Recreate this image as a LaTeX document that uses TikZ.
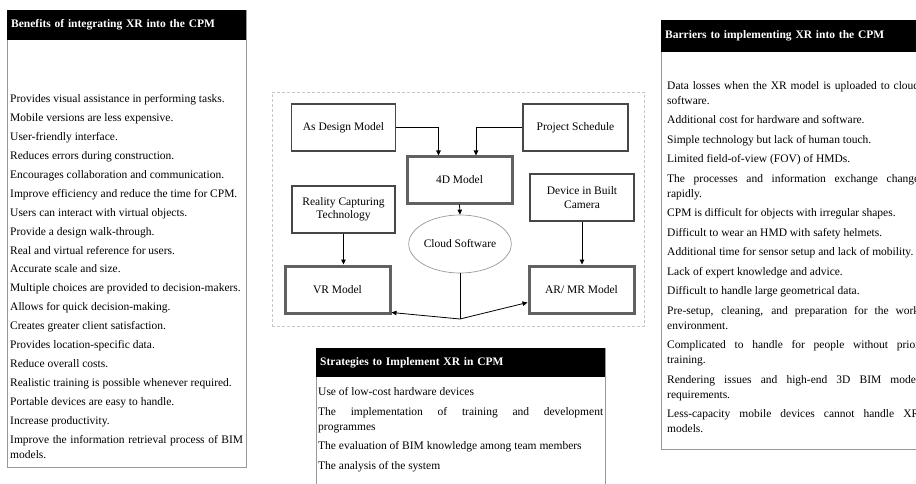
\documentclass[tikz,border=0pt]{standalone}
\usepackage{fontspec}
\setmainfont{Liberation Serif}
\usetikzlibrary{arrows.meta,shapes.geometric}
\newcommand{\listsetup}[1]{\setlength{\parskip}{#1}\hyphenpenalty=10000 \exhyphenpenalty=10000 \tolerance=9999 }
\tikzset{
 panel/.style={draw=black!40, line width=0.9pt, fill=white, anchor=north west, inner sep=0pt},
 hdr/.style={fill=black, text=white, anchor=north west, inner xsep=4pt, inner ysep=0pt, align=left, font=\fontsize{11.5}{14}\selectfont\bfseries},
 listtxt/.style={anchor=base west, inner sep=0pt, align=justify, font=\fontsize{11.5}{15}\selectfont},
 thinbox/.style={draw=black!72, line width=1.2pt, minimum width=104pt, minimum height=47pt, align=center, font=\fontsize{11.5}{13.5}\selectfont, inner sep=1pt},
 thickbox/.style={thinbox, draw=black!62, line width=3pt},
 cloudshape/.style={ellipse, draw=black!40, line width=0.7pt, minimum width=94pt, minimum height=58pt, inner sep=0pt, font=\fontsize{11.5}{13.5}\selectfont},
 arr/.style={line width=0.8pt, draw=black, -{Triangle[length=5pt,width=4.5pt]}},
 plain/.style={line width=0.8pt, draw=black},
 dashframe/.style={draw=black!22, line width=0.8pt, dash pattern=on 3pt off 2pt},
}
\begin{document}
\begin{tikzpicture}[x=1pt,y=-1pt]
\useasboundingbox (0,0) rectangle (916,484);
\fill[white] (0,0) rectangle (916,484);
\clip (0,0) rectangle (916,484);

% ---------- left panel ----------
\node[panel, minimum width=239pt, minimum height=457pt] (benpanel) at (7,10) {};
\node[hdr, text width=231pt, minimum height=30pt] (benhead) at (7,10) {Benefits of integrating XR into the CPM};
\node[listtxt, text width=233pt] (benlist) at (10,102.5) {\listsetup{3.94pt}%
Provides visual assistance in performing tasks.\par
Mobile versions are less expensive.\par
User-friendly interface.\par
Reduces errors during construction.\par
Encourages collaboration and communication.\par
Improve efficiency and reduce the time for CPM.\par
Users can interact with virtual objects.\par
Provide a design walk-through.\par
Real and virtual reference for users.\par
Accurate scale and size.\par
Multiple choices are provided to decision-makers.\par
Allows for quick decision-making.\par
Creates greater client satisfaction.\par
Provides location-specific data.\par
Reduce overall costs.\par
Realistic training is possible whenever required.\par
Portable devices are easy to handle.\par
Increase productivity.\par
Improve the information retrieval process of BIM\linebreak models.};

% ---------- right panel ----------
\node[panel, minimum width=280pt, minimum height=429pt] (barpanel) at (661,20) {};
\node[hdr, text width=272pt, minimum height=32pt] (barhead) at (661,20) {Barriers to implementing XR into the CPM};
\node[listtxt, text width=252pt] (barlist) at (667,89.5) {\listsetup{4.46pt}%
Data losses when the XR model is uploaded to cloud\linebreak software.\par
Additional cost for hardware and software.\par
Simple technology but lack of human touch.\par
Limited field-of-view (FOV) of HMDs.\par
The processes and information exchange change\linebreak rapidly.\par
CPM is difficult for objects with irregular shapes.\par
Difficult to wear an HMD with safety helmets.\par
Additional time for sensor setup and lack of mobility.\par
Lack of expert knowledge and advice.\par
Difficult to handle large geometrical data.\par
Pre-setup, cleaning, and preparation for the work\linebreak environment.\par
Complicated to handle for people without prior\linebreak training.\par
Rendering issues and high-end 3D BIM model\linebreak requirements.\par
Less-capacity mobile devices cannot handle XR\linebreak models.};

% ---------- strategies panel ----------
\node[panel, minimum width=289pt, minimum height=150pt] (strpanel) at (316,348) {};
\node[hdr, text width=281pt, minimum height=29pt] (strhead) at (316,348) {Strategies to Implement XR in CPM};
\node[listtxt, text width=285pt] (strlist) at (318,395.5) {\listsetup{4.67pt}%
Use of low-cost hardware devices\par
The implementation of training and development\linebreak programmes\par
The evaluation of BIM knowledge among team members\par
The analysis of the system};

% ---------- central diagram ----------
\node[dashframe, minimum width=372pt, minimum height=234pt, anchor=north west, inner sep=0pt] (frame) at (272,92) {};

\node[thinbox] (asdesign) at (343.5,127.5) {As Design Model};
\node[thinbox, minimum width=105pt] (projsched) at (575.5,127.5) {Project Schedule};
\node[thickbox, minimum width=105pt, minimum height=46pt] (fourd) at (459.5,180) {4D Model};
\node[thinbox, minimum width=103pt] (reality) at (343.5,209.5) {Reality Capturing\\Technology};
\node[thinbox] (device) at (582,197.5) {Device in Built\\Camera};
\node[cloudshape] (cloud) at (460,244) {Cloud Software};
\node[thickbox, minimum width=105pt] (vr) at (337.5,289.5) {VR Model};
\node[thickbox, minimum width=105pt] (armr) at (581.5,289.5) {AR/ MR Model};

\coordinate (junc) at (460,319);

\draw[arr] (asdesign.east) -| ([xshift=-21pt]fourd.north);
\draw[arr] (projsched.west) -| ([xshift=16.5pt]fourd.north);
\draw[arr] (fourd.south) -- (cloud.north);
\draw[arr] (reality.south) -- (reality.south |- vr.north);
\draw[arr] (device.south) -- (device.south |- armr.north);
\draw[plain] (cloud.south) -- (junc);
\draw[arr] (junc) -- ([yshift=2pt]vr.south east);
\draw[arr] (junc) -- ([yshift=-13pt]armr.west);
\end{tikzpicture}
\end{document}
